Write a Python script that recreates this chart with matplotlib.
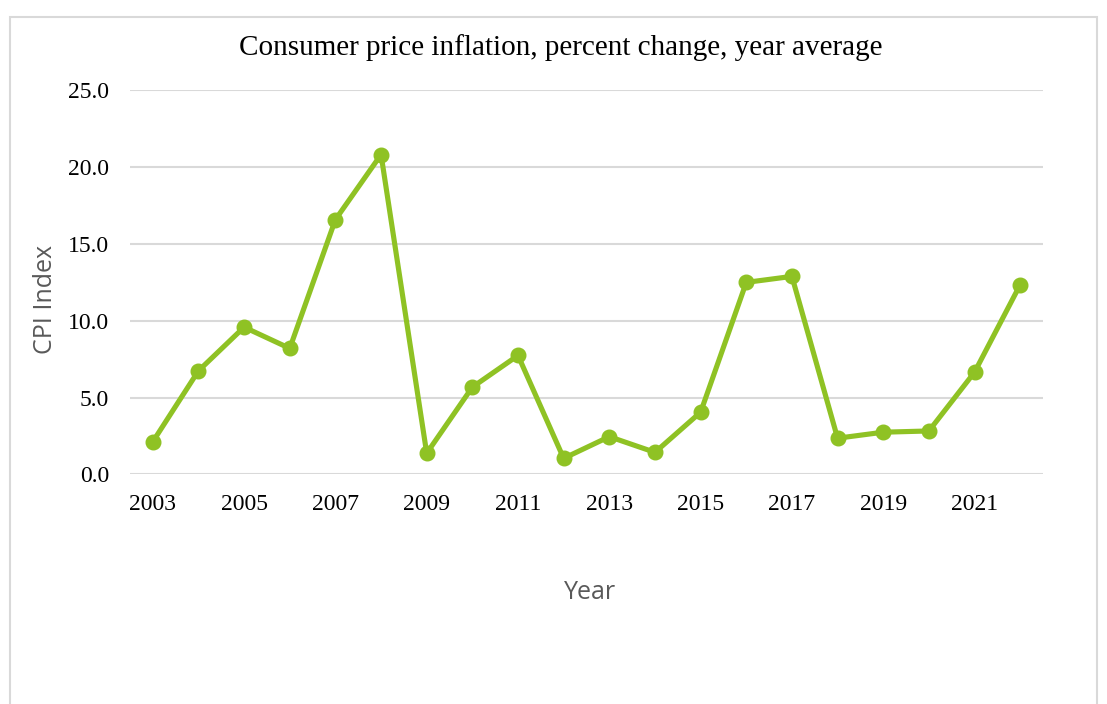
import numpy as np
import matplotlib
matplotlib.use("Agg")
import matplotlib.pyplot as plt
from matplotlib.patches import Rectangle

# Valores
anos = [2003, 2004, 2005, 2006, 2007, 2008, 2009, 2010, 2011, 2012,
        2013, 2014, 2015, 2016, 2017, 2018, 2019, 2020, 2021, 2022]
cpi = [2.13, 6.74, 9.58, 8.2, 16.57, 20.8, 1.38, 5.68, 7.74, 1.05,
       2.46, 1.44, 4.05, 12.49, 12.88, 2.36, 2.75, 2.83, 6.65, 12.34]
ticks_y = [0, 5, 10, 15, 20, 25]
ticks_x = anos[::2]

titulo = "Consumer price inflation, percent change, year average"
verde = "#8FC224"
cinza = "#D9D9D9"

fig = plt.figure(figsize=(11.07, 7.04), dpi=100)
ax = fig.add_axes([0.1174, 0.326, 0.8248, 0.5462])

ax.plot(anos, cpi, color=verde, lw=3.7, marker="o", ms=10.5,
        solid_joinstyle="round", zorder=3)

ax.set_xlim(2002.5, 2022.5)
ax.set_ylim(0, 25)
ax.set_yticks(ticks_y)
ax.set_yticklabels([f"{v:.1f}" for v in ticks_y])
ax.set_xticks(ticks_x)
ax.set_xticklabels([str(a) for a in ticks_x])

ax.grid(axis="y", color=cinza, lw=1.5)
ax.set_axisbelow(True)
for s in ax.spines.values():
    s.set_visible(False)
ax.tick_params(length=0, labelsize=17, colors="black")
ax.tick_params(axis="y", pad=15)
ax.tick_params(axis="x", pad=14)
for lab in ax.get_xticklabels() + ax.get_yticklabels():
    lab.set_fontfamily("Liberation Serif")

fig.text(0.507, 0.933, titulo, ha="center", va="center",
         fontsize=21, family="Liberation Serif", color="black")
fig.text(0.533, 0.159, "Year", ha="center", va="center",
         fontsize=18, family="Open Sans", color="#595959")
fig.text(0.041, 0.574, "CPI Index", ha="center", va="center", rotation=90,
         fontsize=18, family="Open Sans", color="#595959")

# moldura do gráfico
fig.patches.append(Rectangle((10 / 1107, -0.1), 1087 / 1107, 1.1 - 17 / 704,
                             transform=fig.transFigure, fill=False,
                             edgecolor=cinza, lw=1.5))

fig.savefig("out.png", dpi=100, facecolor="white")
